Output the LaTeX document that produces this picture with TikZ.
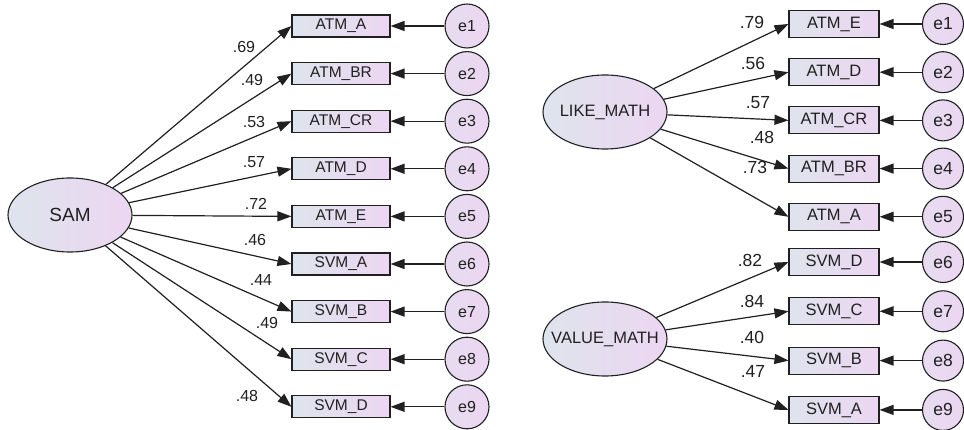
\documentclass[tikz,border=0pt]{standalone}
\usepackage{fontspec}
\setmainfont{Liberation Sans}
\usepackage{tikz}
\usetikzlibrary{shapes,arrows.meta}
\definecolor{lavleft}{RGB}{222,228,237}
\definecolor{lavright}{RGB}{236,214,242}
\definecolor{ink}{RGB}{32,32,32}
\tikzstyle{latent} = [ellipse, draw=ink, line width=1.1pt, text=ink,
    left color=lavleft, right color=lavright, minimum width=124pt,
    minimum height=74pt, inner ysep=0pt, inner xsep=-12pt,
    font=\fontsize{16.5}{19}\selectfont]
\tikzstyle{item} = [rectangle, draw=ink, line width=1.1pt, text=ink,
    left color=lavleft, right color=lavright, minimum width=98pt,
    minimum height=22pt, inner sep=0pt, font=\fontsize{15.5}{18}\selectfont]
\tikzstyle{bigitem} = [item, minimum width=90pt, minimum height=27pt,
    font=\fontsize{16.5}{19}\selectfont]
\tikzstyle{err} = [circle, draw=ink, line width=1.1pt, text=ink,
    left color=lavleft!40!lavright, right color=lavright, minimum size=44pt,
    inner sep=0pt, font=\fontsize{16}{18}\selectfont]
\tikzstyle{bigerr} = [err, minimum size=41pt, font=\fontsize{17.5}{20}\selectfont]
\tikzstyle{coef} = [text=ink, inner sep=0pt, font=\fontsize{16}{18}\selectfont]
\tikzstyle{bigcoef} = [coef, font=\fontsize{17.5}{20}\selectfont]
\tikzstyle{line} = [draw=ink, line width=1.2pt, -{Triangle[length=14pt,width=10pt]}]

\begin{document}
\begin{tikzpicture}[x=1pt, y=-1pt]
\useasboundingbox (0,0) rectangle (964,430);

% one-factor model
\node [latent, font=\fontsize{19}{22}\selectfont] (sam) at (70,215) {SAM};
\node [item] (sAtmA) at (341,26) {ATM\_A};
\node [item, below of=sAtmA, node distance=47.6pt] (sAtmBR) {ATM\_BR};
\node [item, below of=sAtmBR, node distance=47.6pt] (sAtmCR) {ATM\_CR};
\node [item, below of=sAtmCR, node distance=47.6pt] (sAtmD) {ATM\_D};
\node [item, below of=sAtmD, node distance=47.6pt] (sAtmE) {ATM\_E};
\node [item, below of=sAtmE, node distance=47.6pt] (sSvmA) {SVM\_A};
\node [item, below of=sSvmA, node distance=47.6pt] (sSvmB) {SVM\_B};
\node [item, below of=sSvmB, node distance=47.6pt] (sSvmC) {SVM\_C};
\node [item, below of=sSvmC, node distance=47.6pt] (sSvmD) {SVM\_D};

\node [err, right of=sAtmA, node distance=126pt] (se1) {e1};
\node [err, right of=sAtmBR, node distance=126pt] (se2) {e2};
\node [err, right of=sAtmCR, node distance=126pt] (se3) {e3};
\node [err, right of=sAtmD, node distance=126pt] (se4) {e4};
\node [err, right of=sAtmE, node distance=126pt] (se5) {e5};
\node [err, right of=sSvmA, node distance=126pt] (se6) {e6};
\node [err, right of=sSvmB, node distance=126pt] (se7) {e7};
\node [err, right of=sSvmC, node distance=126pt] (se8) {e8};
\node [err, right of=sSvmD, node distance=126pt] (se9) {e9};

\path [line] (sam) -- (sAtmA.west);
\path [line] (sam) -- (sAtmBR.west);
\path [line] (sam) -- (sAtmCR.west);
\path [line] (sam) -- (sAtmD.west);
\path [line] (sam) -- (sAtmE.west);
\path [line] (sam) -- (sSvmA.west);
\path [line] (sam) -- (sSvmB.west);
\path [line] (sam) -- (sSvmC.west);
\path [line] (sam) -- (sSvmD.west);

\path [line] (se1) -- (sAtmA);
\path [line] (se2) -- (sAtmBR);
\path [line] (se3) -- (sAtmCR);
\path [line] (se4) -- (sAtmD);
\path [line] (se5) -- (sAtmE);
\path [line] (se6) -- (sSvmA);
\path [line] (se7) -- (sSvmB);
\path [line] (se8) -- (sSvmC);
\path [line] (se9) -- (sSvmD);

\node [coef] (sl1) at (244,47) {.69};
\node [coef] (sl2) at (252,80) {.49};
\node [coef] (sl3) at (254,122) {.53};
\node [coef] (sl4) at (254,162) {.57};
\node [coef] (sl5) at (256,204) {.72};
\node [coef] (sl6) at (255,240) {.46};
\node [coef] (sl7) at (261,280) {.44};
\node [coef] (sl8) at (267,323) {.49};
\node [coef] (sl9) at (247,396) {.48};

% two-factor model
\node [latent] (like) at (605,112) {LIKE\_MATH};
\node [latent] (value) at (605,339) {VALUE\_MATH};

\node [bigitem] (mAtmE) at (834,24) {ATM\_E};
\node [bigitem, below of=mAtmE, node distance=48.2pt] (mAtmD) {ATM\_D};
\node [bigitem, below of=mAtmD, node distance=48.2pt] (mAtmCR) {ATM\_CR};
\node [bigitem, below of=mAtmCR, node distance=48.2pt] (mAtmBR) {ATM\_BR};
\node [bigitem, below of=mAtmBR, node distance=48.2pt] (mAtmA) {ATM\_A};
\node [bigitem] (mSvmD) at (834,262) {SVM\_D};
\node [bigitem, below of=mSvmD, node distance=49.3pt] (mSvmC) {SVM\_C};
\node [bigitem, below of=mSvmC, node distance=49.3pt] (mSvmB) {SVM\_B};
\node [bigitem, below of=mSvmB, node distance=49.3pt] (mSvmA) {SVM\_A};

\node [bigerr, right of=mAtmE, node distance=109pt] (me1) {e1};
\node [bigerr, right of=mAtmD, node distance=109pt] (me2) {e2};
\node [bigerr, right of=mAtmCR, node distance=109pt] (me3) {e3};
\node [bigerr, right of=mAtmBR, node distance=109pt] (me4) {e4};
\node [bigerr, right of=mAtmA, node distance=109pt] (me5) {e5};
\node [bigerr, right of=mSvmD, node distance=109pt] (me6) {e6};
\node [bigerr, right of=mSvmC, node distance=109pt] (me7) {e7};
\node [bigerr, right of=mSvmB, node distance=109pt] (me8) {e8};
\node [bigerr, right of=mSvmA, node distance=109pt] (me9) {e9};

\path [line] (like) -- (mAtmE.west);
\path [line] (like) -- (mAtmD.west);
\path [line] (like) -- (mAtmCR.west);
\path [line] (like) -- (mAtmBR.west);
\path [line] (like) -- (mAtmA.west);
\path [line] (value) -- (mSvmD.west);
\path [line] (value) -- (mSvmC.west);
\path [line] (value) -- (mSvmB.west);
\path [line] (value) -- (mSvmA.west);

\path [line] (me1) -- (mAtmE);
\path [line] (me2) -- (mAtmD);
\path [line] (me3) -- (mAtmCR);
\path [line] (me4) -- (mAtmBR);
\path [line] (me5) -- (mAtmA);
\path [line] (me6) -- (mSvmD);
\path [line] (me7) -- (mSvmC);
\path [line] (me8) -- (mSvmB);
\path [line] (me9) -- (mSvmA);

\node [bigcoef] (ml1) at (752,22) {.79};
\node [bigcoef] (ml2) at (753,63) {.56};
\node [bigcoef] (ml3) at (758,103) {.57};
\node [bigcoef] (ml4) at (762,137) {.48};
\node [bigcoef] (ml5) at (755,167) {.73};
\node [bigcoef] (ml6) at (750,260) {.82};
\node [bigcoef] (ml7) at (752,301) {.84};
\node [bigcoef] (ml8) at (752,337) {.40};
\node [bigcoef] (ml9) at (753,371) {.47};
\end{tikzpicture}
\end{document}
